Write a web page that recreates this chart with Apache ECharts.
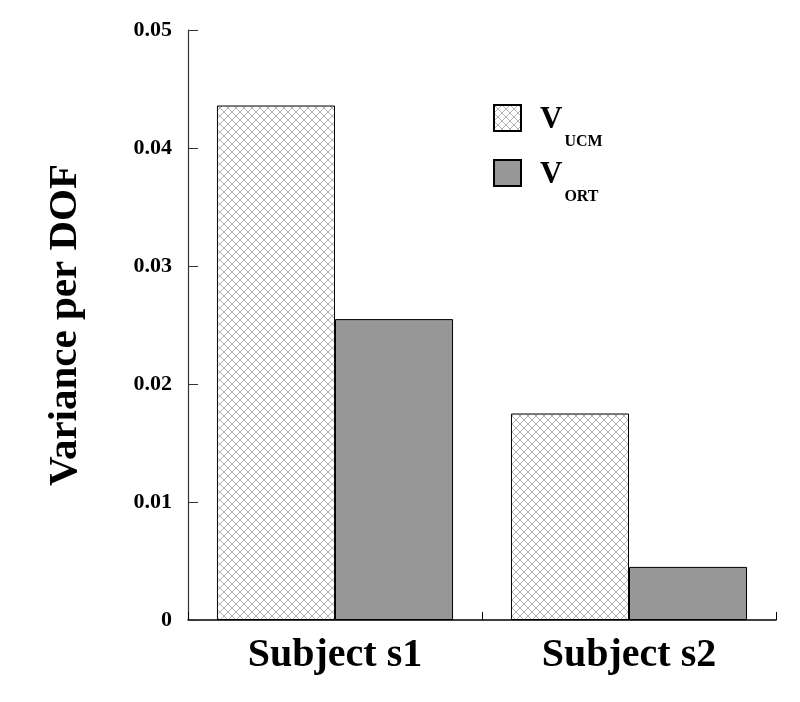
<!DOCTYPE html>
<html><head><meta charset="utf-8">
<script src="https://cdn.jsdelivr.net/npm/echarts@6/dist/echarts.min.js"></script>
<style>html,body{margin:0;padding:0;background:#fff}#c{width:800px;height:702px}</style>
</head><body><div id="c"></div>
<script>
const categories = ['Subject s1', 'Subject s2'];
const seriesNames = ['UCM', 'ORT'];
const vUCM = [0.0436, 0.0175];
const vORT = [0.0255, 0.0045];
const yTicks = [0, 0.01, 0.02, 0.03, 0.04, 0.05];

function hatch() {
  const c = document.createElement('canvas');
  c.width = 8; c.height = 8;
  const g = c.getContext('2d');
  g.fillStyle = '#fff'; g.fillRect(0, 0, 8, 8);
  g.strokeStyle = '#b4b4b4'; g.lineWidth = 1;
  g.beginPath();
  g.moveTo(0, 0); g.lineTo(8, 8);
  g.moveTo(8, 0); g.lineTo(0, 8);
  g.stroke();
  return c;
}
const pat = { image: hatch(), repeat: 'repeat' };
const serif = '"Liberation Serif", "Times New Roman", serif';

const chart = echarts.init(document.getElementById('c'));
chart.setOption({
  animation: false,
  backgroundColor: '#fff',
  grid: { left: 188, right: 24, top: 30, bottom: 82 },
  legend: {
    orient: 'vertical', left: 488, top: 99,
    itemWidth: 27, itemHeight: 26, itemGap: 9,
    icon: 'rect',
    data: seriesNames,
    formatter: n => '{v|V}{s|' + n + '}',
    textStyle: {
      rich: {
        v: { fontFamily: serif, fontWeight: 'bold', fontSize: 31, color: '#000', lineHeight: 34, verticalAlign: 'bottom', padding: [0, 0, 0, 14] },
        s: { fontFamily: serif, fontWeight: 'bold', fontSize: 16, color: '#000', lineHeight: 34, verticalAlign: 'bottom', padding: [0, 0, -15, 2] }
      }
    }
  },
  xAxis: {
    type: 'category', data: categories,
    axisLine: { lineStyle: { color: '#000', width: 1.5 } },
    axisTick: { show: true, inside: true, length: 8, lineStyle: { color: '#000' } },
    axisLabel: { fontFamily: serif, fontWeight: 'bold', fontSize: 40, color: '#000', margin: 16 }
  },
  yAxis: {
    type: 'value', min: 0, max: 0.05, interval: 0.01,
    name: 'Variance per DOF', nameLocation: 'middle', nameGap: 102,
    nameTextStyle: { fontFamily: serif, fontWeight: 'bold', fontSize: 41, color: '#000' },
    splitLine: { show: false },
    axisLine: { show: true, lineStyle: { color: '#333', width: 1.2 } },
    axisTick: { show: true, inside: true, length: 10, lineStyle: { color: '#333' } },
    axisLabel: { fontFamily: serif, fontWeight: 'bold', fontSize: 22, color: '#000', margin: 16,
      formatter: v => (yTicks.includes(+v.toFixed(2)) ? (v === 0 ? '0' : v.toFixed(2)) : '') }
  },
  series: [
    { name: seriesNames[0], type: 'bar', data: vUCM, barGap: '0%', barCategoryGap: '19.7%',
      itemStyle: { color: pat, borderColor: '#000', borderWidth: 1 } },
    { name: seriesNames[1], type: 'bar', data: vORT,
      itemStyle: { color: '#979797', borderColor: '#000', borderWidth: 1 } }
  ]
});
</script></body></html>
